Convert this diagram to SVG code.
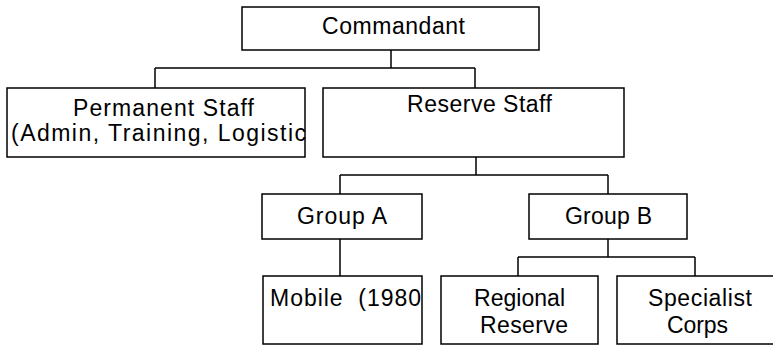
<svg xmlns="http://www.w3.org/2000/svg" width="773" height="346" viewBox="0 0 773 346">
<style>
.box{fill:#fff;stroke:#000;stroke-width:1.5}
.ln{fill:none;stroke:#000;stroke-width:1.5}
text{font-family:"Liberation Sans",Arial,sans-serif;font-size:23px;fill:#000}
</style>
<rect width="773" height="346" fill="#fff"/>
<g id="connectors">
<path class="ln" d="M391,50 V68 M155,68 H475 M155,68 V88 M475,68 V88"/>
<path class="ln" d="M476,157 V175 M340,175 H608 M340,175 V194 M608,175 V194"/>
<path class="ln" d="M340,239 V276"/>
<path class="ln" d="M608,239 V257 M518,257 H695 M518,257 V276 M695,257 V276"/>
</g>
<g id="commandant">
<rect class="box" x="242" y="7" width="297" height="43"/>
<text x="322" y="34" textLength="143" lengthAdjust="spacing">Commandant</text>
</g>
<g id="permanent-staff">
<rect class="box" x="7" y="88" width="298" height="69"/>
<text x="73" y="116" textLength="181" lengthAdjust="spacing">Permanent Staff</text>
<text x="11" y="141" textLength="295" lengthAdjust="spacing">(Admin, Training, Logistic</text>
</g>
<g id="reserve-staff">
<rect class="box" x="323" y="88" width="301" height="69"/>
<text x="407" y="112" textLength="145" lengthAdjust="spacing">Reserve Staff</text>
</g>
<g id="group-a">
<rect class="box" x="262" y="194" width="160" height="45"/>
<text x="297" y="224" textLength="90" lengthAdjust="spacing">Group A</text>
</g>
<g id="group-b">
<rect class="box" x="529" y="194" width="158" height="45"/>
<text x="565" y="224" textLength="87" lengthAdjust="spacing">Group B</text>
</g>
<g id="mobile">
<rect class="box" x="263" y="276" width="159" height="68"/>
<text x="270" y="306" textLength="151" lengthAdjust="spacing" xml:space="preserve">Mobile  (1980</text>
</g>
<g id="regional-reserve">
<rect class="box" x="441" y="276" width="157" height="68"/>
<text x="474" y="306" textLength="91" lengthAdjust="spacing">Regional</text>
<text x="480" y="333" textLength="88" lengthAdjust="spacing">Reserve</text>
</g>
<g id="specialist-corps">
<rect class="box" x="617" y="276" width="170" height="68"/>
<text x="648" y="306" textLength="104" lengthAdjust="spacing">Specialist</text>
<text x="667" y="333" textLength="61" lengthAdjust="spacing">Corps</text>
</g>
</svg>
